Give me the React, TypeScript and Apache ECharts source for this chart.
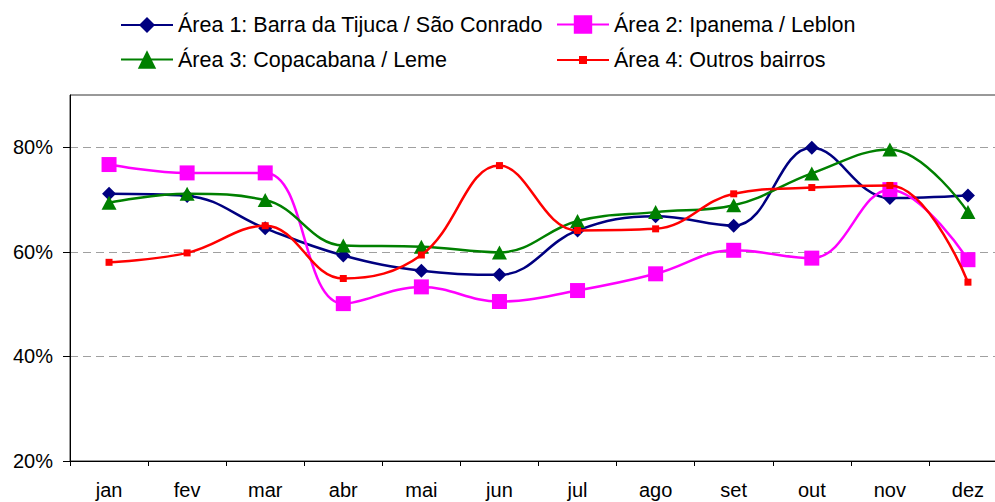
import React, { useEffect, useRef } from 'react';
import * as echarts from 'echarts';

const months = ['jan', 'fev', 'mar', 'abr', 'mai', 'jun', 'jul', 'ago', 'set', 'out', 'nov', 'dez'];
const area1 = [71.1, 70.7, 64.5, 59.3, 56.4, 55.6, 64.1, 66.8, 65.0, 79.9, 70.3, 70.8];
const area2 = [76.7, 75.1, 75.1, 50.1, 53.3, 50.5, 52.6, 55.8, 60.3, 58.8, 71.9, 58.5];
const area3 = [69.4, 71.1, 69.9, 61.2, 61.0, 59.9, 65.9, 67.6, 68.9, 75.0, 79.6, 67.6];
const area4 = [58.0, 59.8, 65.0, 54.9, 59.4, 76.5, 64.1, 64.4, 71.1, 72.3, 72.7, 54.2];
const seriesNames = [
  'Área 1: Barra da Tijuca / São Conrado',
  'Área 2: Ipanema / Leblon',
  'Área 3: Copacabana / Leme',
  'Área 4: Outros bairros',
];
const yTickValues = [20, 40, 60, 80];

const FONT = '"Liberation Sans", Arial, sans-serif';

export default function App() {
  const ref = useRef<HTMLDivElement>(null);
  useEffect(() => {
    if (!ref.current) return;
    const chart = echarts.init(ref.current, undefined, { renderer: 'svg' });
    const colors = ['#000080', '#FF00FF', '#008000', '#FF0000'];
    const symbols = ['diamond', 'rect', 'triangle', 'rect'];
    const sizes: any[] = [14, 15, [15, 14], 7];
    const datas = [area1, area2, area3, area4];
    const legendPos = [
      { left: 120, top: 14, h: 20 },
      { left: 556, top: 13.5, h: 23 },
      { left: 120, top: 48.5, h: 23 },
      { left: 556, top: 49, h: 10 },
    ];
    const option: any = {
      animation: false,
      backgroundColor: '#ffffff',
      textStyle: { fontFamily: FONT },
      legend: seriesNames.map((n, i) => ({
        data: [n],
        left: legendPos[i].left,
        top: legendPos[i].top,
        padding: 0,
        itemWidth: 52,
        itemHeight: legendPos[i].h,
        textStyle: { fontSize: 21.5, color: '#000', fontFamily: FONT },
        selectedMode: false,
      })),
      grid: {
        left: 70,
        top: 95,
        right: -12,
        bottom: 41,
        show: true,
        borderColor: '#333',
        borderWidth: 1,
        containLabel: false,
        outerBoundsMode: 'none',
      },
      xAxis: {
        type: 'category',
        data: months,
        boundaryGap: true,
        axisLine: { lineStyle: { color: '#000', width: 1 } },
        axisTick: { show: true, length: 5, lineStyle: { color: '#000' } },
        axisLabel: { fontSize: 20, color: '#000', margin: 19, fontFamily: FONT },
        splitLine: { show: false },
      },
      yAxis: {
        type: 'value',
        min: 20,
        max: 90,
        interval: 20,
        axisLine: { show: true, lineStyle: { color: '#000', width: 1 } },
        axisTick: { show: true, length: 7, lineStyle: { color: '#000' }, customValues: yTickValues },
        axisLabel: {
          fontSize: 20,
          color: '#000',
          margin: 17,
          fontFamily: FONT,
          formatter: '{value}%',
          customValues: yTickValues,
        },
        splitLine: { show: true, lineStyle: { color: '#a0a0a0', type: [8, 5], width: 1 } },
      },
      series: seriesNames.map((n, i) => ({
        name: n,
        type: 'line',
        data: datas[i],
        smooth: 0.4,
        symbol: symbols[i],
        symbolSize: sizes[i],
        showSymbol: true,
        lineStyle: { color: colors[i], width: 2.5 },
        itemStyle: { color: colors[i], borderWidth: 0 },
        z: 2 + i,
      })),
    };
    chart.setOption(option);
    return () => chart.dispose();
  }, []);
  return (
    <div
      ref={ref}
      style={{ position: 'absolute', left: 0, top: 0, width: 995, height: 502 }}
    />
  );
}
